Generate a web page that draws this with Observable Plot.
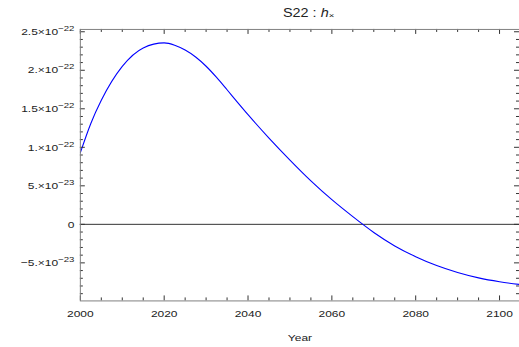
<!DOCTYPE html>
<html>
<head>
<meta charset="utf-8">
<script src="https://cdn.jsdelivr.net/npm/d3@7"></script>
<script src="https://cdn.jsdelivr.net/npm/@observablehq/plot@0.6"></script>
<style>
  html, body { margin: 0; padding: 0; background: #fff; overflow: hidden; }
  #wrap { position: relative; width: 519px; height: 347px; overflow: hidden; }
  #title {
    position: absolute; left: 283px; top: 6px; white-space: nowrap;
    font: 12px "Liberation Sans", Arial, sans-serif; color: #222; line-height: 14px;
    transform: scaleX(1.2); transform-origin: left center;
  }
  #title sub { font-size: 8px; vertical-align: -1px; }
</style>
</head>
<body>
<div id="wrap">
  <div id="title">S22 : <i>h</i><sub>×</sub></div>
</div>
<script>
// Strain amplitude h× of source S22 over the years 2000–2105 (values in units of 1e-22)
const years = [2000, 2002.5, 2005, 2010, 2015, 2020, 2022.5, 2025, 2027.5, 2030, 2032.5,
  2035, 2037.5, 2040, 2045, 2050, 2055, 2060, 2065, 2070, 2075, 2080, 2085, 2090,
  2095, 2100, 2104.76];
const hx = [0.93, 1.31, 1.61, 2.05, 2.29, 2.355, 2.325, 2.262, 2.172, 2.052, 1.907,
  1.747, 1.584, 1.424, 1.12, 0.835, 0.565, 0.32, 0.10, -0.105, -0.28, -0.42, -0.535, -0.625,
  -0.695, -0.745, -0.78];
const unit = 1e-22;

// Axis ticks
const xMajor = [2000, 2020, 2040, 2060, 2080, 2100];
const xMinor = d3.range(2005, 2105, 5).filter(d => d % 20 !== 0);
const yMajor = [-0.5e-22, 0, 0.5e-22, 1e-22, 1.5e-22, 2e-22, 2.5e-22];
const yMajorLabels = ["−5.×10^−23", "0", "5.×10^−23", "1.×10^−22", "1.5×10^−22", "2.×10^−22", "2.5×10^−22"];
const yMinor = d3.range(-9, 26).filter(k => k % 5 !== 0).map(k => k * 0.1e-22);

const table = years.map((y, i) => ({year: y, hx: hx[i] * unit}));

const W = 520, H = 347, mt = 29, mb = 46, ml = 80, mr = 0;
const plotH = H - mt - mb, plotW = W - ml - mr;
const majorLen = 5, minorLen = 3;
const tickColor = "#333";

const chart = Plot.plot({
  width: W, height: H,
  marginLeft: ml, marginRight: mr, marginTop: mt, marginBottom: mb,
  style: {fontFamily: '"Liberation Sans", Arial, sans-serif', fontSize: "10px", color: "#222", background: "#fff"},
  x: {domain: [2000, 2104.76], axis: null},
  y: {domain: [-0.994e-22, 2.53e-22], axis: null},
  marks: [
    Plot.ruleY([0], {stroke: "#333", strokeWidth: 1}),
    Plot.line(table, {x: "year", y: "hx", stroke: "#0000ff", strokeWidth: 1.1, curve: "monotone-x", clip: true}),
    // inward-pointing frame ticks: bottom, top, left, right
    Plot.tickX(xMajor, {x: d => d, insetTop: plotH - majorLen, stroke: tickColor}),
    Plot.tickX(xMinor, {x: d => d, insetTop: plotH - minorLen, stroke: tickColor}),
    Plot.tickX(xMajor, {x: d => d, insetBottom: plotH - majorLen, stroke: tickColor}),
    Plot.tickX(xMinor, {x: d => d, insetBottom: plotH - minorLen, stroke: tickColor}),
    Plot.tickY(yMajor, {y: d => d, insetRight: plotW - majorLen, stroke: tickColor}),
    Plot.tickY(yMinor, {y: d => d, insetRight: plotW - minorLen, stroke: tickColor}),
    Plot.tickY(yMajor, {y: d => d, insetLeft: plotW - majorLen, stroke: tickColor}),
    Plot.tickY(yMinor, {y: d => d, insetLeft: plotW - minorLen, stroke: tickColor}),
    Plot.frame({stroke: "#808080", strokeWidth: 1}),
    Plot.axisX({ticks: xMajor, tickSize: 0, tickPadding: 9, tickFormat: d => String(d),
      label: "Year", labelAnchor: "center", labelArrow: "none", labelOffset: 40}),
    Plot.axisY({ticks: yMajor, tickSize: 0, tickPadding: 6,
      tickFormat: d => yMajorLabels[yMajor.indexOf(d)], label: null})
  ]
});

// Typeset scientific tick labels as mantissa × 10 with a raised exponent
d3.select(chart).selectAll('g[aria-label="y-axis tick label"] text').each(function () {
  const t = d3.select(this);
  const s = t.text();
  if (!s.includes("^")) return;
  const [base, exp] = s.split("^");
  t.text(null);
  t.append("tspan").text(base);
  t.append("tspan").attr("font-size", 8).attr("dy", "-4").text(exp);
});

document.getElementById("wrap").prepend(chart);

// Slightly wide lettering for all chart text
d3.select(chart).selectAll("text").each(function () {
  const len = this.getComputedTextLength();
  if (len > 0) {
    this.setAttribute("textLength", (len * 1.2).toFixed(1));
    this.setAttribute("lengthAdjust", "spacingAndGlyphs");
  }
});
</script>
</body>
</html>
